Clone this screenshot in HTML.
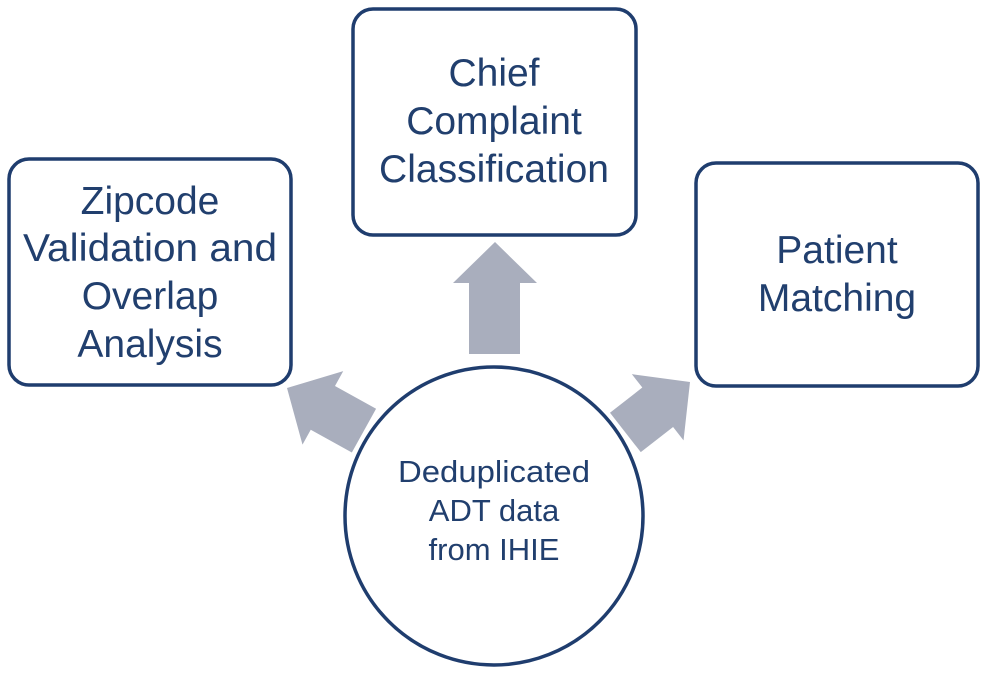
<!DOCTYPE html>
<html><head><style>
html,body{margin:0;padding:0;background:#fff;}
svg text{font-family:"Liberation Sans",sans-serif;fill:#213f6e;text-anchor:middle;}
</style></head><body>
<svg width="992" height="683" viewBox="0 0 992 683" xmlns="http://www.w3.org/2000/svg">
<g fill="none" stroke="#1f3d6e" stroke-width="3.5">
<rect x="9" y="159" width="282" height="226" rx="20"/>
<rect x="353" y="9" width="283" height="226" rx="20"/>
<rect x="696" y="163" width="282" height="223" rx="20"/>
<circle cx="494" cy="516" r="149"/>
</g>
<g fill="#a9aebd">
<polygon points="495,242 537,283 520,283 520,354 469,354 469,283 453,283"/>
<polygon transform="translate(287,388) rotate(-61)" points="0,0 42,41 25,41 25,88 -25,88 -25,41 -42,41"/>
<polygon transform="translate(690,382) rotate(52)" points="0,0 42,41 25,41 25,82 -25,82 -25,41 -42,41"/>
</g>
<g font-size="39">
<text x="150" y="214">Zipcode</text>
<text x="150" y="261" textLength="254" lengthAdjust="spacingAndGlyphs">Validation and</text>
<text x="150" y="309">Overlap</text>
<text x="150" y="357">Analysis</text>
<text x="494" y="86">Chief</text>
<text x="494" y="134">Complaint</text>
<text x="494" y="182" textLength="230" lengthAdjust="spacingAndGlyphs">Classification</text>
<text x="837" y="263">Patient</text>
<text x="837" y="311">Matching</text>
</g>
<g font-size="31">
<text x="494" y="482" textLength="192" lengthAdjust="spacingAndGlyphs">Deduplicated</text>
<text x="494" y="521">ADT data</text>
<text x="494" y="560">from IHIE</text>
</g>
</svg>
</body></html>
